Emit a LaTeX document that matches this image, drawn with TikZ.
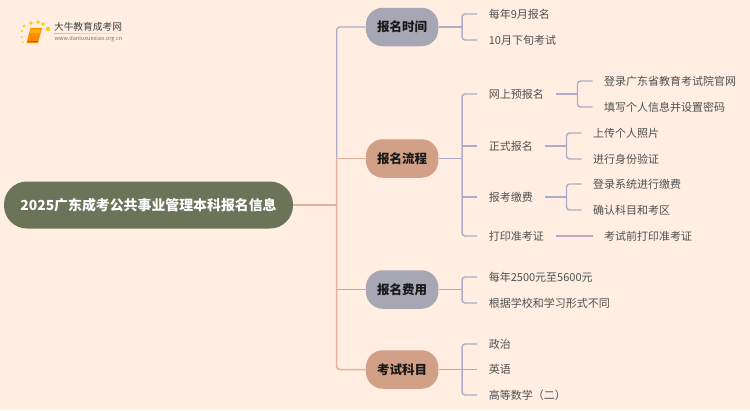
\documentclass[tikz,border=0pt]{standalone}
\usepackage{fontspec}
\setmainfont{Noto Sans CJK SC}
\usetikzlibrary{positioning,calc,fadings}
\definecolor{paper}{HTML}{FFEEE1}
\definecolor{olive}{HTML}{6B7359}
\definecolor{slate}{HTML}{A7A6B5}
\definecolor{clay}{HTML}{D2A086}
\definecolor{lineb}{HTML}{ABAEC6}
\definecolor{lines}{HTML}{E2B299}
\definecolor{ink}{HTML}{505050}

\begin{document}
\begin{tikzpicture}[
  x=1pt,y=-1pt,
  node distance=37pt,
  rootn/.style={rectangle,rounded corners=23pt,fill=olive,text=white,
                minimum width=289pt,minimum height=47pt,inner sep=0pt,
                font=\fontsize{13.9pt}{16pt}\selectfont\bfseries},
  brn/.style={rectangle,rounded corners=17pt,minimum width=72.5pt,minimum height=38.5pt,
              inner sep=0pt,text=black!90,font=\fontsize{12.5pt}{15pt}\selectfont\bfseries},
  leaf/.style={inner xsep=11.5pt,inner ysep=0pt,text=ink,
               font=\fontsize{11pt}{14pt}\selectfont},
  lnkb/.style={draw=lineb,line width=1.4pt},
  lnks/.style={draw=lines,line width=1.5pt},
  elbow/.style={rounded corners=3pt}
]
  \useasboundingbox[fill=paper] (0,0) rectangle (750,410);

  % logo
  \fill[orange!90!yellow] (30.5,28) -- (42,28) -- (38,43) -- (26.5,43) -- cycle;
  \fill[orange!60!yellow] (31,29) -- (40.5,29) -- (39.5,33) -- (30,33) -- cycle;
  \draw[orange!70!black,line width=.5pt] (27.5,41) -- (37.5,41);
  \foreach \px/\py/\pr in {24/26/1.4,31/23/1.8,38/22/1.8,43/24/1.9,48/29/2.2,22/31/1.2,22/37/1,23/42/.9}
    \fill[yellow!65!orange] (\px,\py) circle (\pr);
  \node[inner sep=0pt,text=black!75,font=\fontsize{9.7pt}{11pt}\selectfont] (logot) at (88,27) {大牛教育成考网};
  \node[inner sep=0pt,text=black!55,font=\fontsize{5.6pt}{7pt}\selectfont] (logou) at (88.5,39) {www.daniuxuexiao.org.cn};
  \fill[black!25,path fading=east] (54,33) rectangle (130,33.7);

  \node[rootn] (root) at (148.5,205) {2025广东成考公共事业管理本科报名信息};
  \node[brn,fill=slate,right=72.5pt of root,yshift=178pt] (tm)  {报名时间};
  \node[brn,fill=clay, right=72.5pt of root,yshift=46.5pt] (flw) {报名流程};
  \node[brn,fill=slate,right=72.5pt of root,yshift=-84.5pt] (fee) {报名费用};
  \node[brn,fill=clay, right=72.5pt of root,yshift=-164.5pt] (sub) {考试科目};

  \node[leaf,right=38.5pt of tm,yshift=13pt]  (tm1) {每年9月报名};
  \node[leaf,right=38.5pt of tm,yshift=-13pt] (tm2) {10月下旬考试};

  \node[leaf,right=38.5pt of flw,yshift=64.5pt]  (fa) {网上预报名};
  \node[leaf,right=38.5pt of flw,yshift=12.5pt]  (fb) {正式报名};
  \node[leaf,right=38.5pt of flw,yshift=-38.5pt] (fc) {报考缴费};
  \node[leaf,right=38.5pt of flw,yshift=-77.5pt] (fd) {打印准考证};

  \node[leaf,right=of fa,yshift=13pt]  (fa1) {登录广东省教育考试院官网};
  \node[leaf,right=of fa,yshift=-13pt] (fa2) {填写个人信息并设置密码};
  \node[leaf,right=of fb,yshift=13pt]  (fb1) {上传个人照片};
  \node[leaf,right=of fb,yshift=-13pt] (fb2) {进行身份验证};
  \node[leaf,right=of fc,yshift=13pt]  (fc1) {登录系统进行缴费};
  \node[leaf,right=of fc,yshift=-13pt] (fc2) {确认科目和考区};
  \node[leaf,right=of fd]              (fd1) {考试前打印准考证};

  \node[leaf,right=38.5pt of fee,yshift=12.5pt]  (fe1) {每年2500元至5600元};
  \node[leaf,right=38.5pt of fee,yshift=-13.5pt] (fe2) {根据学校和学习形式不同};

  \node[leaf,right=38.5pt of sub,yshift=25.5pt]  (su1) {政治};
  \node[leaf,right=38.5pt of sub]                (su2) {英语};
  \node[leaf,right=38.5pt of sub,yshift=-25.5pt] (su3) {高等数学（二）};

  % trunk
  \coordinate[right=43.5pt of root] (j0);
  \draw[lnkb,elbow] (j0 |- flw) |- (tm.west);
  \draw[lnkb] (j0 |- fee) -- (fee.west);
  \draw[lnks] (root.east) -- (j0);
  \draw[lnks] (j0 |- flw) -- (flw.west);
  \draw[lnks,elbow] (j0 |- flw) -- (j0) |- (sub.west);

  % second level
  \coordinate[right=23.5pt of tm]  (j1);
  \coordinate[right=23.5pt of flw] (j2);
  \coordinate[right=23.5pt of fee] (j3);
  \coordinate[right=23.5pt of sub] (j4);
  \draw[lnkb] (tm)  -- (j1);
  \draw[lnkb,elbow] (j1) |- (tm1.west);
  \draw[lnkb,elbow] (j1) |- (tm2.west);
  \draw[lnkb] (flw) -- (j2);
  \draw[lnkb,elbow] (j2) |- (fa.west);
  \draw[lnkb] (j2 |- fb) -- (fb.west);
  \draw[lnkb] (j2 |- fc) -- (fc.west);
  \draw[lnkb,elbow] (j2) |- (fd.west);
  \draw[lnkb] (fee) -- (j3);
  \draw[lnkb,elbow] (j3) |- (fe1.west);
  \draw[lnkb,elbow] (j3) |- (fe2.west);
  \draw[lnkb] (sub) -- (su2.west);
  \draw[lnkb,elbow] (j4) |- (su1.west);
  \draw[lnkb,elbow] (j4) |- (su3.west);

  % third level
  \coordinate[right=22pt of fa] (ja);
  \coordinate[right=22pt of fb] (jb);
  \coordinate[right=22pt of fc] (jc);
  \draw[lnkb] (fa.east) -- (ja);
  \draw[lnkb,elbow] (ja) |- (fa1.west);
  \draw[lnkb,elbow] (ja) |- (fa2.west);
  \draw[lnkb] (fb.east) -- (jb);
  \draw[lnkb,elbow] (jb) |- (fb1.west);
  \draw[lnkb,elbow] (jb) |- (fb2.west);
  \draw[lnkb] (fc.east) -- (jc);
  \draw[lnkb,elbow] (jc) |- (fc1.west);
  \draw[lnkb,elbow] (jc) |- (fc2.west);
  \draw[lnkb] (fd.east) -- (fd1.west);
\end{tikzpicture}
\end{document}
